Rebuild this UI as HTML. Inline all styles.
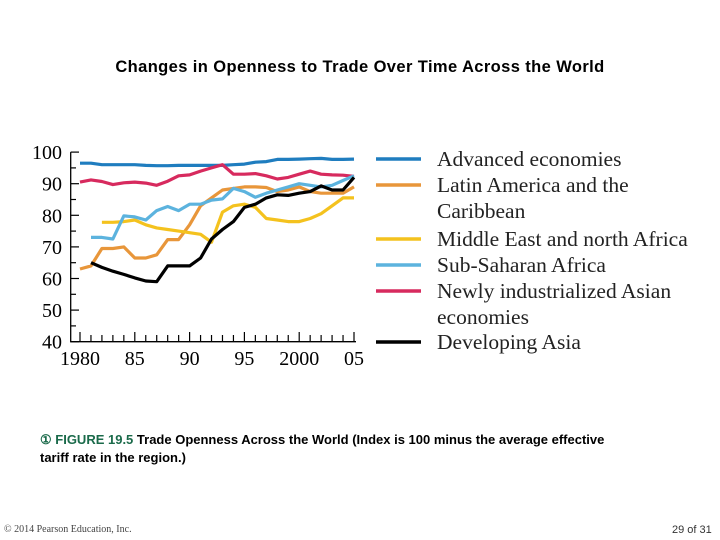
<!DOCTYPE html>
<html><head><meta charset="utf-8"><style>
body{margin:0;width:720px;height:540px;background:#fff;overflow:hidden;position:relative;font-family:"Liberation Sans",sans-serif}
.t{position:absolute;white-space:nowrap}
</style></head><body>
<div class="t" style="left:0;width:720px;text-align:center;top:58px;font-size:16.5px;letter-spacing:0.4px;font-weight:bold;">Changes in Openness to Trade Over Time Across the World</div>
<svg id="c" width="720" height="540" style="position:absolute;left:0;top:0"></svg>
<div class="t" style="left:40px;top:431px;font-size:13px;font-weight:bold;line-height:18px;white-space:normal;width:592px"><span style="color:#1a6a4a">&#x2460; FIGURE 19.5</span> Trade Openness Across the World (Index is 100 minus the average effective tariff rate in the region.)</div>
<div class="t" style="left:4px;top:524px;font-size:10px;font-family:'Liberation Serif',serif;color:#444">© 2014 Pearson Education, Inc.</div>
<div class="t" style="left:672px;top:524px;font-size:11px;color:#333">29 of 31</div>
<script>
const years=[1980,1981,1982,1983,1984,1985,1986,1987,1988,1989,1990,1991,1992,1993,1994,1995,1996,1997,1998,1999,2000,2001,2002,2003,2004,2005];
const advanced=[96.5,96.5,96,96,96,96,95.8,95.7,95.7,95.8,95.8,95.8,95.8,95.8,96,96.2,96.8,97,97.7,97.7,97.8,97.9,98,97.7,97.7,97.8];
const latin=[63,64,69.5,69.5,70,66.5,66.5,67.5,72.3,72.3,77,83,85.5,88,88.5,89,89,88.8,87.5,88,89,87.5,87,87,87,89];
const mideast=[null,null,77.8,77.8,78,78.5,77,76,75.5,75,74.5,74,71.5,81,83,83.5,82.5,79,78.5,78,78,79,80.5,83,85.5,85.5];
const subsahara=[null,73,73,72.5,79.8,79.5,78.5,81.5,82.8,81.5,83.5,83.5,84.8,85.2,88.5,87.5,85.7,87,88,89,90,89.5,89,89.5,91,92.5];
const newlyInd=[90.5,91.2,90.7,89.7,90.3,90.5,90.2,89.5,90.8,92.5,92.8,94,95,96,93,93,93.2,92.5,91.5,92,93,94,93,92.8,92.7,92.3];
const devAsia=[null,65,63.5,62.3,61.3,60.2,59.2,59,64,64,64,66.5,72.5,75.5,78,82.5,83.5,85.5,86.5,86.3,87,87.5,89.3,88,88,92];
const yTicks=[40,50,60,70,80,90,100];
const xTickLabels=["1980","85","90","95","2000","05"];
const seriesNames=["Advanced economies","Latin America and the Caribbean","Middle East and north Africa","Sub-Saharan Africa","Newly industrialized Asian economies","Developing Asia"];
const svg=document.getElementById('c');const NS='http://www.w3.org/2000/svg';
const x=v=>80+(v-1980)*10.96, y=v=>341.7-(v-40)*3.16;
function mk(t,a,p){const e=document.createElementNS(NS,t);for(const k in a)e.setAttribute(k,a[k]);(p||svg).appendChild(e);return e;}
let ax=mk('path',{d:`M70.7,${y(100)}V341.7H356`,stroke:'#000','stroke-width':1.3,fill:'none'});

for(let v=40;v<=100;v+=5){const t=mk('line',{x1:70.7,x2:v%10?76:79,y1:y(v),y2:y(v),stroke:'#000','stroke-width':1.2});
}
for(const v of yTicks){const t=mk('text',{x:62,y:y(v)+7,'text-anchor':'end','font-family':'Liberation Serif,serif','font-size':20});t.textContent=v;
}
for(const yr of years){const t=mk('line',{x1:x(yr),x2:x(yr),y1:341.7,y2:yr%5?335:332,stroke:'#000','stroke-width':1.2});
}
xTickLabels.forEach((l,i)=>{const t=mk('text',{x:x(1980+5*i),y:365,'text-anchor':'middle','font-family':'Liberation Serif,serif','font-size':20});t.textContent=l;
});
const series=[[advanced,'#1f7dbf'],[latin,'#e8963a'],[mideast,'#f4c21e'],[subsahara,'#5cb3de'],[newlyInd,'#d72a5e'],[devAsia,'#000']];
const drawOrder=[0,4,1,2,3,5];
for(const i of drawOrder){const [d,c]=series[i];let p='';d.forEach((v,j)=>{if(v==null)return;p+=(p?'L':'M')+x(years[j]).toFixed(1)+','+y(v).toFixed(1);});
const l=mk('path',{d:p,stroke:c,'stroke-width':3.2,fill:'none','stroke-linejoin':'round'});
}
const legY=[159,185,239,265,291,342];
const legText=[["Advanced economies"],["Latin America and the","Caribbean"],["Middle East and north Africa"],["Sub-Saharan Africa"],["Newly industrialized Asian","economies"],["Developing Asia"]];
series.forEach(([d,c],i)=>{const g=mk('g',{});
mk('line',{x1:376,x2:421,y1:legY[i],y2:legY[i],stroke:c,'stroke-width':3.5},g);
legText[i].forEach((s,k)=>{const t=mk('text',{x:437,y:legY[i]+7+k*26,'font-family':'Liberation Serif,serif','font-size':21.5,fill:'#222'},g);t.textContent=s;});});
</script>
</body></html>
